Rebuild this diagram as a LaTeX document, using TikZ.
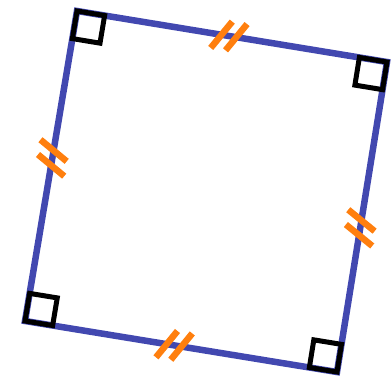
\documentclass[tikz,border=0pt]{standalone}
\usetikzlibrary{calc}
\definecolor{sqblue}{RGB}{66,72,176}
\definecolor{tickorange}{RGB}{255,127,14}

\begin{document}
\begin{tikzpicture}[
    x=1pt, y=-1pt,
    side/.style={sqblue, line width=6.5pt},
    tickmark/.style={tickorange, line width=6.5pt},
    rightangle/.style={black, line width=5pt},
]
\useasboundingbox (0,0) rectangle (392,380);
% corners of the tilted square
\coordinate (A) at (77,11);
\coordinate (B) at (387,62);
\coordinate (C) at (337,372);
\coordinate (D) at (25,321);
% sides
\draw[side] (A) -- (B) -- (C) -- (D) -- cycle;
% equal-length marks (two ticks on each side)
\foreach \p/\q/\t in {A/B/0.49, B/C/0.535, C/D/0.522, D/A/0.526} {
   \coordinate (m) at ($(\p)!\t!(\q)$);
   \foreach \s in {-7.5,7.5} {
      \coordinate (n) at ($(m)!\s pt!(\q)$);
      \draw[tickmark] ($(n)!17pt!60:(\q)$) -- ($(n)!-17pt!60:(\q)$);
   }
}
% right-angle boxes at the corners
\foreach \v/\p/\q in {A/B/D, B/C/A, C/D/B, D/A/C} {
   \coordinate (p1) at ($(\v)!28pt!(\p)$);
   \coordinate (q1) at ($(\v)!28pt!(\q)$);
   \draw[rightangle] (\v) -- (p1) -- ($(p1)+(q1)-(\v)$) -- (q1) -- cycle;
}
\end{tikzpicture}
\end{document}
